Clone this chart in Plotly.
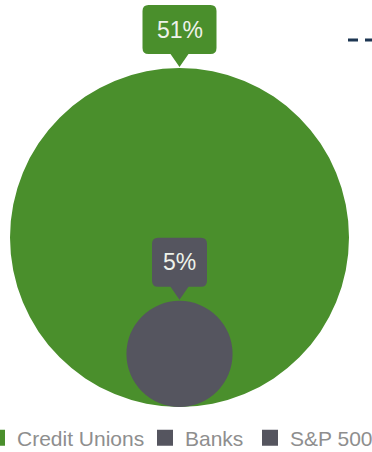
import math
import plotly.graph_objects as go

# ---- data ----
categories = ["Credit Unions", "Banks", "S&P 500"]
values = [51, 5, None]          # percent shown in the bubbles (S&P 500 not drawn as a bubble)
labels = ["51%", "5%", None]
colors = ["#4a8f2c", "#55555f", "#55555f"]

# ---- layout constants ----
W, H = 372, 452
CX = 179.5          # common horizontal centre of bubbles
BASE = 407          # common bottom of bubbles (pixels from top)
K = 169.5 / math.sqrt(51)   # radius scale: r = K * sqrt(value)
LEGEND_LEFT = [-23, 145, 250]   # pixel left of each legend entry
FONT = "Liberation Sans, Arial, sans-serif"

fig = go.Figure()

shapes = []
annotations = []

# bubbles (largest first)
order = sorted([i for i, v in enumerate(values) if v is not None], key=lambda i: -values[i])
tops = {}
for i in order:
    r = K * math.sqrt(values[i])
    cy = BASE - r
    tops[i] = cy - r
    shapes.append(dict(type="circle", xref="x", yref="y",
                       x0=CX - r, x1=CX + r, y0=cy - r, y1=cy + r,
                       fillcolor=colors[i], line=dict(width=0), layer="below"))


def callout_path(cx, tip, w, h=49, ph=13, pw=18, rr=6):
    bottom = tip - ph
    top = bottom - h
    left, right = cx - w / 2, cx + w / 2
    return (f"M {left+rr},{top} L {right-rr},{top} Q {right},{top} {right},{top+rr} "
            f"L {right},{bottom-rr} Q {right},{bottom} {right-rr},{bottom} "
            f"L {cx+pw/2},{bottom} L {cx},{tip} L {cx-pw/2},{bottom} "
            f"L {left+rr},{bottom} Q {left},{bottom} {left},{bottom-rr} "
            f"L {left},{top+rr} Q {left},{top} {left+rr},{top} Z"), (top + bottom) / 2


for i in order:
    w = 17 + 19 * len(labels[i])
    path, mid = callout_path(CX, tops[i] - 1, w)
    shapes.append(dict(type="path", xref="x", yref="y", path=path,
                       fillcolor=colors[i], line=dict(width=0), layer="above"))
    annotations.append(dict(x=CX, y=mid, xref="x", yref="y", text=labels[i],
                            showarrow=False,
                            font=dict(size=23, color="#eef2ea", family=FONT)))

# partial dashed line at top right (clipped by page edge)
shapes.append(dict(type="line", xref="x", yref="y", x0=348, x1=385, y0=40, y1=40,
                   line=dict(color="#1d3652", width=3, dash="10px,7px")))

# legend entries, one legend per entry so they sit on one row
legend_layout = {}
for k, (name, col) in enumerate(zip(categories, colors)):
    lname = "legend" if k == 0 else f"legend{k+1}"
    fig.add_trace(go.Scatter(x=[None], y=[None], mode="markers", name=name,
                             legend=lname,
                             marker=dict(symbol="square", size=17, color=col)))
    legend_layout[lname] = dict(orientation="h", x=LEGEND_LEFT[k] / W, xanchor="left",
                                y=(H - 438) / H, yanchor="middle",
                                font=dict(size=21, color="#8e8e8e", family=FONT),
                                bgcolor="rgba(0,0,0,0)")

fig.update_layout(
    width=W, height=H,
    margin=dict(l=0, r=0, t=0, b=0, autoexpand=False),
    paper_bgcolor="white", plot_bgcolor="white",
    xaxis=dict(range=[0, W], visible=False, fixedrange=True),
    yaxis=dict(range=[H, 0], visible=False, fixedrange=True),
    shapes=shapes,
    annotations=annotations,
    showlegend=True,
    **legend_layout,
)

fig.write_html("out.html", config=dict(displayModeBar=False))
